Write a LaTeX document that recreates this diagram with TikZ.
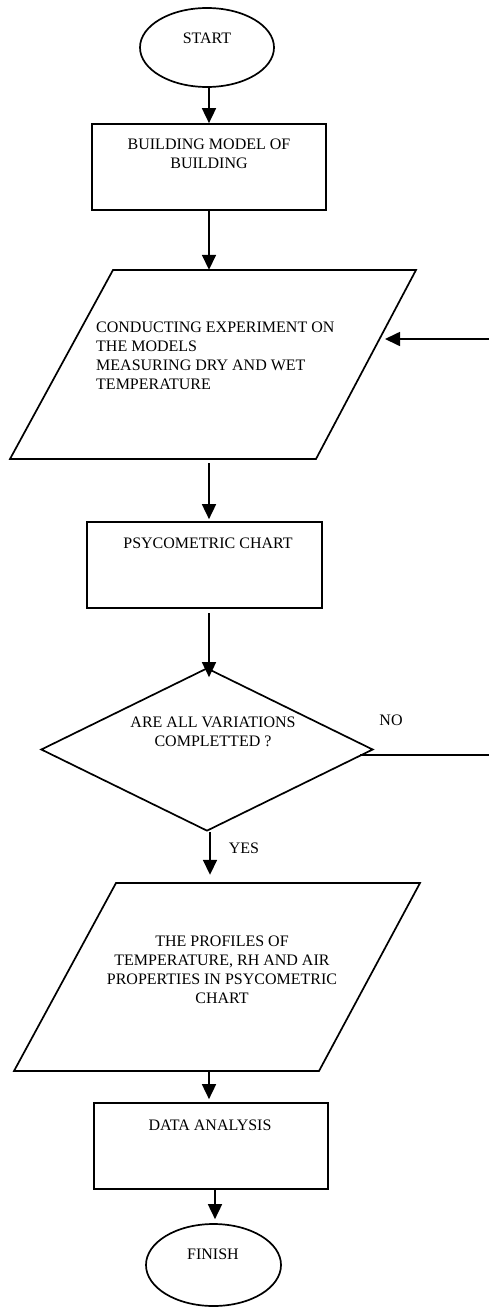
\documentclass[tikz,border=0pt]{standalone}
\usepackage{fontspec}
\setmainfont{Liberation Serif}
\usetikzlibrary{shapes.geometric,arrows.meta,calc}
\begin{document}
\begin{tikzpicture}[x=1pt,y=-1pt,
  shapeline/.style={line width=1.7pt, line join=miter},
  boxnode/.style={draw, line width=1.7pt, minimum width=234pt, minimum height=86pt, inner sep=0pt},
  term/.style={draw, ellipse, line width=1.7pt, inner sep=0pt},
  hidden/.style={draw=none, inner sep=0pt},
  lbl/.style={font=\fontsize{16}{19}\selectfont, inner sep=0pt, align=center},
  arr/.style={line width=1.7pt, -{Triangle[length=15pt,width=14pt]}},
  plain/.style={line width=1.7pt}]
\useasboundingbox (0,0) rectangle (489,1308);
% terminals
\node[term, minimum width=134pt, minimum height=79pt] (start) at (207,47.5) {};
\node[lbl] (tstart) at (207,38) {START};
% box 1
\node[boxnode] (b1) at (209,167) {};
\node[lbl] (tb1) at (209,153.5) {BUILDING MODEL OF\\BUILDING};
% parallelogram 1
\draw[shapeline] (113,270) -- (416,270) -- (316,459) -- (10,459) -- cycle;
\node[hidden, minimum width=406pt, minimum height=189pt] (p1) at (213,364.5) {};
\node[lbl, align=left, anchor=west] (tp1) at (96,356) {CONDUCTING EXPERIMENT ON\\THE MODELS\\MEASURING DRY AND WET\\TEMPERATURE};
\coordinate (p1in) at (385,339);
\coordinate (loopin) at (489,339);
% box 2
\node[boxnode, minimum width=235pt] (b2) at (204.5,565) {};
\node[lbl] (tb2) at (208,543) {PSYCOMETRIC CHART};
% decision
\node[draw, diamond, line width=1.7pt, minimum width=332pt, minimum height=163pt, inner sep=0pt] (dia) at (207,749.5) {};
\node[lbl] (tdia) at (213,732) {ARE ALL VARIATIONS\\COMPLETTED ?};
\node[lbl] (tno) at (391,720) {NO};
\coordinate (loopout) at (489,755);
\node[lbl] (tyes) at (244,848) {YES};
% parallelogram 2
\draw[shapeline] (116,883) -- (420,883) -- (319,1071) -- (14,1071) -- cycle;
\node[hidden, minimum width=406pt, minimum height=188pt] (p2) at (217,977) {};
\node[lbl] (tp2) at (222,969.5) {THE PROFILES OF\\TEMPERATURE, RH AND AIR\\PROPERTIES IN PSYCOMETRIC\\CHART};
% box 3
\node[boxnode] (b3) at (211,1146) {};
\node[lbl] (tb3) at (210,1125) {DATA ANALYSIS};
% finish
\node[term, minimum width=135pt, minimum height=82pt] (finish) at (213.5,1265) {};
\node[lbl] (tfinish) at (213,1254) {FINISH};
% connectors
\draw[arr] (209,87) coordinate (s0) -- (s0 |- b1.north);
\draw[arr] (b1.south) -- (b1.south |- p1.north);
\draw[arr, shorten <=4pt, shorten >=2pt] (209,459) coordinate (s1) -- (s1 |- b2.north);
\draw[arr, shorten <=5pt, shorten >=-10pt] (209,608) coordinate (s2) -- (s2 |- dia.north);
\draw[arr, shorten >=8pt] (dia.south) ++(3,0) coordinate (s3) -- (s3 |- p2.north);
\draw[arr, shorten >=3pt] (209,1071) coordinate (s4) -- (s4 |- b3.north);
\draw[arr, shorten >=4pt] (215,1189) coordinate (s5) -- (s5 |- finish.north);
\draw[arr] (loopin) -- (p1in);
\coordinate (nostart) at ($(dia.east)!0.084!(dia.south)$);
\draw[plain] (nostart |- loopout) -- (loopout);
\end{tikzpicture}
\end{document}
